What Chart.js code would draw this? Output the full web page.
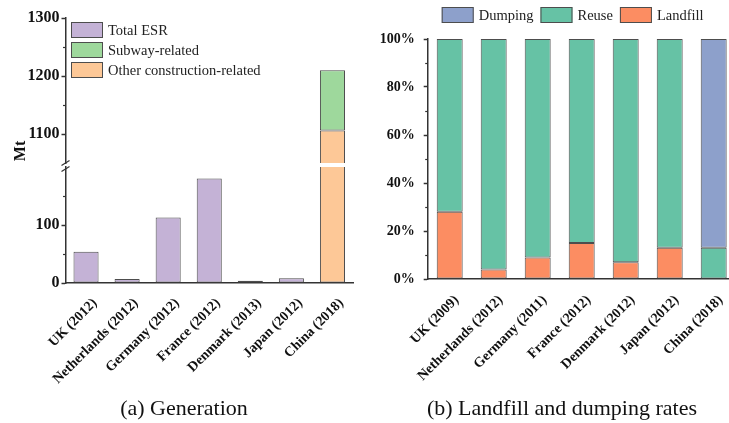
<!DOCTYPE html>
<html>
<head>
<meta charset="utf-8">
<script src="https://cdn.jsdelivr.net/npm/chart.js@4.4.0/dist/chart.umd.min.js"></script>
<style>
  html, body { margin: 0; padding: 0; background: #fff; }
  body { width: 729px; height: 423px; overflow: hidden; position: relative; font-family: "Liberation Serif", "Times New Roman", serif; color: #111; }
  canvas { position: absolute; }
  #genTop { left: 0; top: 0; }
  #genBottom { left: 0; top: 154px; }
  #rates { left: 360px; top: 0; }
  .caption { position: absolute; top: 397px; width: 320px; text-align: center; font-size: 22px; line-height: 22px; white-space: nowrap; }
  #mt { position: absolute; left: 0; top: 141px; width: 40px; line-height: 20px; text-align: center; font-weight: bold; font-size: 16px; transform: rotate(-90deg); }
</style>
</head>
<body>
<canvas id="genTop" width="360" height="176"></canvas>
<canvas id="genBottom" width="360" height="245"></canvas>
<canvas id="rates" width="400" height="400"></canvas>
<div id="mt">Mt</div>
<div class="caption" style="left:24px">(a) Generation</div>
<div class="caption" style="left:402px">(b) Landfill and dumping rates</div>

<script>
// (a) generation, Mt
const genCategories = ['UK (2012)', 'Netherlands (2012)', 'Germany (2012)', 'France (2012)', 'Denmark (2013)', 'Japan (2012)', 'China (2018)'];
const totalESR = [54, 7, 113, 180, 4, 8, null];
const otherConstruction = [null, null, null, null, null, null, 1106];
const subwayRelated = [null, null, null, null, null, null, 104];
const lowerTicks = [0, 100];
const upperTicks = [1100, 1200, 1300];

// (b) landfill and dumping rates, %
const rateCategories = ['UK (2009)', 'Netherlands (2012)', 'Germany (2011)', 'France (2012)', 'Denmark (2012)', 'Japan (2012)', 'China (2018)'];
const landfill = [28, 4, 9, 15, 7, 13, null];
const reuse = [72, 96, 91, 85, 93, 87, 13];
const dumping = [null, null, null, null, null, null, 87];
const rateTicks = [0, 20, 40, 60, 80, 100];

const AXIS = '#333';
const EDGE = '#4d4d4d';
const SERIF = '"Liberation Serif", "Times New Roman", serif';

// legend boxes drawn by hand so they sit where the original has them
const boxLegend = {
  id: 'boxLegend',
  afterDraw(chart, args, opts) {
    if (!opts.order) return;
    const ctx = chart.ctx;
    ctx.save();
    ctx.font = '14.5px ' + SERIF;
    ctx.textBaseline = 'middle';
    let x = opts.x, y = opts.y;
    opts.order.forEach(i => {
      const ds = chart.data.datasets[i];
      ctx.fillStyle = ds.backgroundColor;
      ctx.fillRect(x, y, 32, 16);
      ctx.strokeStyle = EDGE;
      ctx.lineWidth = 1;
      ctx.strokeRect(x + 0.5, y + 0.5, 31, 15);
      ctx.fillStyle = '#222';
      ctx.fillText(ds.label, x + 37, y + 9);
      if (opts.vertical) y += 20;
      else x += 37 + ctx.measureText(ds.label).width + 7;
    });
    ctx.restore();
  }
};

// short unlabelled ticks between the major ones
const minorTicks = {
  id: 'minorTicks',
  afterDraw(chart, args, opts) {
    if (!opts.values) return;
    const s = chart.scales.y, ctx = chart.ctx;
    ctx.save();
    ctx.strokeStyle = AXIS;
    ctx.lineWidth = 1.2;
    opts.values.forEach(v => {
      const py = Math.round(s.getPixelForValue(v)) + 0.5;
      ctx.beginPath();
      ctx.moveTo(s.right - 2.5, py);
      ctx.lineTo(s.right, py);
      ctx.stroke();
    });
    ctx.restore();
  }
};

// the "//" where the y axis is broken
const axisBreak = {
  id: 'axisBreak',
  afterDraw(chart, args, opts) {
    if (!opts.edge) return;
    const a = chart.chartArea, ctx = chart.ctx;
    const y = opts.edge === 'bottom' ? a.bottom : a.top + 2;
    ctx.save();
    ctx.strokeStyle = AXIS;
    ctx.lineWidth = 1.2;
    ctx.beginPath();
    ctx.moveTo(a.left - 4, y + 2.5);
    ctx.lineTo(a.left + 4, y - 2.5);
    ctx.stroke();
    ctx.restore();
  }
};

function genChart(id, yMin, yMax, majors, minors, showX, pad, breakEdge) {
  return new Chart(document.getElementById(id), {
    type: 'bar',
    data: {
      labels: genCategories,
      datasets: [
        { label: 'Total ESR', data: totalESR, backgroundColor: '#C4B2D6' },
        { label: 'Other construction-related', data: otherConstruction, backgroundColor: '#FDC897' },
        { label: 'Subway-related', data: subwayRelated, backgroundColor: '#9ED89C' }
      ].map(d => Object.assign(d, { borderColor: EDGE, borderWidth: 1, borderSkipped: false, clip: 0, categoryPercentage: 1, barPercentage: 0.61 }))
    },
    options: {
      responsive: false,
      animation: false,
      layout: { padding: pad },
      plugins: {
        legend: { display: false },
        tooltip: { enabled: false },
        boxLegend: showX ? {} : { x: 71, y: 22, vertical: true, order: [0, 2, 1] },
        minorTicks: { values: minors },
        axisBreak: { edge: breakEdge }
      },
      scales: {
        x: {
          display: showX,
          stacked: true,
          afterFit: s => { if (showX) s.height = 116; },
          grid: { display: false },
          border: { display: true, color: AXIS, width: 1.5 },
          ticks: { color: '#111', font: { family: SERIF, size: 14, weight: 'bold' }, minRotation: 45, maxRotation: 45, autoSkip: false, labelOffset: 9, padding: 4 }
        },
        y: {
          stacked: true,
          min: yMin,
          max: yMax,
          afterFit: s => { s.width = 65.5; },
          afterBuildTicks: s => { s.ticks = majors.map(v => ({ value: v })); },
          grid: { drawOnChartArea: false, tickLength: 4, color: AXIS, tickWidth: 1.5 },
          border: { color: AXIS, width: 1.5 },
          ticks: { color: '#111', font: { family: SERIF, size: 16, weight: 'bold' }, padding: 2, callback: v => String(v) }
        }
      }
    },
    plugins: [boxLegend, minorTicks, axisBreak]
  });
}

genChart('genTop', 1050, 1300, upperTicks, [1150, 1250], false, { left: 0, top: 18, right: 7, bottom: 13 }, 'bottom');
genChart('genBottom', 0, 200, lowerTicks, [50, 150], true, { left: 0, top: 13, right: 7, bottom: 0 }, 'top');

new Chart(document.getElementById('rates'), {
  type: 'bar',
  data: {
    labels: rateCategories,
    datasets: [
      { label: 'Landfill', data: landfill, backgroundColor: '#FC8D62' },
      { label: 'Reuse', data: reuse, backgroundColor: '#66C2A5' },
      { label: 'Dumping', data: dumping, backgroundColor: '#8DA0CB' }
    ].map(d => Object.assign(d, { borderColor: EDGE, borderWidth: 1, borderSkipped: false, clip: 0, categoryPercentage: 1, barPercentage: 0.59 }))
  },
  options: {
    responsive: false,
    animation: false,
    layout: { padding: { left: 0, top: 39, right: 24.3, bottom: 0 } },
    plugins: {
      legend: { display: false },
      tooltip: { enabled: false },
      boxLegend: { x: 81.7, y: 7, vertical: false, order: [2, 1, 0] },
      minorTicks: { values: [10, 30, 50, 70, 90] }
    },
    scales: {
      x: {
        stacked: true,
        afterFit: s => { s.height = 121; },
        grid: { display: false },
        border: { display: true, color: AXIS, width: 1.5 },
        ticks: { color: '#111', font: { family: SERIF, size: 14, weight: 'bold' }, minRotation: 45, maxRotation: 45, autoSkip: false, labelOffset: 7, padding: 5 }
      },
      y: {
        stacked: true,
        min: 0,
        max: 100,
        afterFit: s => { s.width = 67.7; },
        afterBuildTicks: s => { s.ticks = rateTicks.map(v => ({ value: v })); },
        grid: { drawOnChartArea: false, tickLength: 4, color: AXIS, tickWidth: 1.5 },
        border: { color: AXIS, width: 1.5 },
        ticks: { color: '#111', font: { family: SERIF, size: 14, weight: 'bold' }, padding: 9, callback: v => v + '%' }
      }
    }
  },
  plugins: [boxLegend, minorTicks]
});
</script>
</body>
</html>
